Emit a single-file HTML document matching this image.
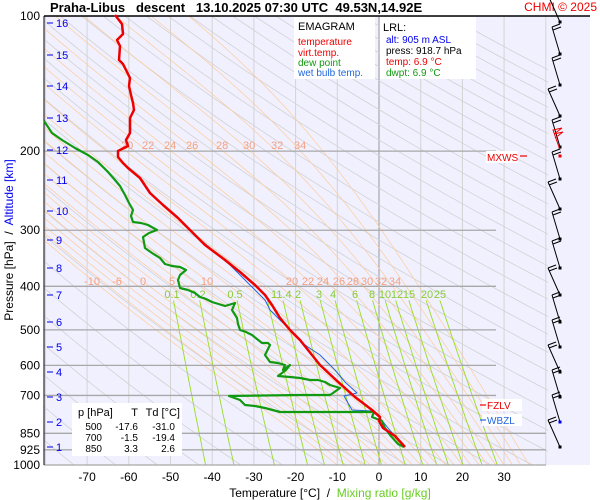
<!DOCTYPE html>
<html><head><meta charset="utf-8"><style>
body{margin:0;background:#fff;width:600px;height:500px;overflow:hidden;font-family:"Liberation Sans",sans-serif}
svg{display:block}
text{white-space:pre}
</style></head><body>
<svg id="s" width="600" height="500" xmlns="http://www.w3.org/2000/svg" font-family="Liberation Sans, sans-serif">
<rect x="44" y="16" width="546" height="449" fill="#f0f0ff"/>
<defs><clipPath id="c"><rect x="44" y="16" width="504" height="449"/></clipPath></defs>
<g id="bg" clip-path="url(#c)"></g>
<g id="fg"></g>
</svg>
<script>
const NS="http://www.w3.org/2000/svg";
const bg=document.getElementById('bg'),fg=document.getElementById('fg');
function Y(p){return 16+449*Math.log10(p/100);}
function X(t){return 379+4.17*t;}
function el(par,tag,a,txt){const e=document.createElementNS(NS,tag);for(const k in a)e.setAttribute(k,a[k]);if(txt!==undefined)e.textContent=txt;par.appendChild(e);return e;}
function pl(par,pts,st,w){el(par,'polyline',{points:pts.map(q=>q[0].toFixed(1)+','+q[1].toFixed(1)).join(' '),fill:'none',stroke:st,'stroke-width':w,'stroke-linejoin':'round'});}
for(let t=-80;t<=40;t+=10){el(bg,'line',{x1:X(t),y1:16,x2:X(t),y2:465,stroke:t==0?'#999':'#d4d4d4','stroke-width':1});}
for(let th=200;th<=560;th+=10){let pts=[];for(let p=100;p<=1000;p+=10){pts.push([X(th*Math.pow(p/1000,0.286)-273.15),Y(p)]);}pl(bg,pts,'#d2d2d2',0.8);}
function es(t){return 6.112*Math.exp(17.67*t/(t+243.5));}
for(let t0=-10;t0<=36;t0+=2){let T=t0+273.15,p=1000,pts=[[X(t0),Y(1000)]];while(p>100){const tc=T-273.15;const e=es(tc);const rs=0.622*e/(p-e);const dTdp=(287*T+2.5e6*rs)/(1004+2.5e6*2.5e6*rs*0.622/(287*T*T))/p;const dp=-5;T+=dTdp*dp;p+=dp;pts.push([X(T-273.15),Y(p)]);}pl(bg,pts,'#ffcc99',0.7);}
const mr=[0.1,0.2,0.5,1,1.4,2,3,4,6,8,10,12,15,20,25];
mr.forEach(w=>{let pts=[];for(let p=430;p<=1000;p+=10){const e=w*p/(622+w);const l=Math.log(e/6.112);pts.push([X(243.5*l/(17.67-l)),Y(p)]);}pl(bg,pts,'#99dd22',0.9);});
[[200,496],[300,496],[400,496],[500,496],[600,496],[700,496],[850,546],[925,546],[1000,546]].forEach(a=>el(fg,'line',{x1:44,y1:Y(a[0]),x2:a[1],y2:Y(a[0]),stroke:'#a8a8a8','stroke-width':1.3}));
[['20',121],['22',142],['24',164],['26',186],['28',216],['30',243],['32',271],['34',294]].forEach(a=>el(fg,'text',{x:a[1],y:149,'font-size':11,fill:'#f4a080'},a[0]));
[['-10',92],['-6',117],['0',143],['5',172],['10',207],['20',292],['22',308],['24',323],['26',339],['28',353],['30',367],['32',381],['34',395]].forEach(a=>el(fg,'text',{x:a[1],y:285,'font-size':11,fill:'#f4a080','text-anchor':'middle'},a[0]));
[['0.1',172],['0.2',198],['0.5',235],['1',274],['1.4',284],['2',298],['3',319],['4',333],['6',355],['8',372],['10',385],['12',397],['15',409],['20',427],['25',440]].forEach((a,i)=>el(fg,'text',{x:a[1],y:298,'font-size':11,fill:'#88cc33','text-anchor':'middle'},a[0]));
el(fg,'line',{x1:44,y1:16,x2:590,y2:16,stroke:'#000','stroke-width':1.5});
el(fg,'line',{x1:44,y1:16,x2:44,y2:465,stroke:'#000','stroke-width':1});
const blue=[[195,235],[230,265],[250,285],[265,300],[270,310],[285,325],[295,335],[305,345],[320,355],[335,370],[345,382],[357,393],[344,396],[352,410],[372,411],[380,418],[388,428],[398,440],[404,446]];
pl(fg,blue,'#2266dd',1);
const dew=[[44,121],[52,133],[62,140],[75,148],[88,155],[98,162],[108,172],[115,180],[120,186],[125,195],[129,203],[133,210],[131,216],[133,222],[141,223],[148,225],[157,230],[149,233],[143,237],[145,248],[152,253],[160,258],[165,264],[172,266],[180,267],[186,270],[180,275],[178,280],[180,288],[188,290],[195,293],[200,297],[206,299],[212,302],[225,306],[235,303],[232,310],[237,318],[238,324],[240,330],[246,332],[252,335],[262,343],[268,343],[270,345],[265,355],[270,362],[278,363],[285,365],[283,370],[290,365],[286,370],[278,376],[290,377],[300,378],[310,380],[318,380],[325,382],[330,385],[340,388],[333,393],[330,395],[300,395],[229,396],[240,400],[245,405],[255,406],[265,408],[280,412],[374,412],[372,417],[382,421],[385,428],[390,435],[398,444],[404,447]];
pl(fg,dew,'#119911',2.2);
const red=[[115,15],[122,24],[123,34],[117,40],[120,46],[119,60],[123,64],[126,70],[130,78],[129,86],[131,95],[133,103],[134,110],[130,118],[130,133],[126,140],[128,146],[118,151],[118,157],[123,163],[128,168],[134,173],[140,178],[150,193],[163,205],[178,218],[190,230],[205,245],[225,260],[240,272],[255,285],[265,295],[272,305],[280,318],[290,330],[300,340],[308,350],[320,365],[336,380],[355,397],[372,410],[380,417],[379,421],[383,428],[395,436],[405,447]];
pl(fg,red,'#ee0000',2.5);
[100,200,300,400,500,600,700,850,925,1000].forEach(p=>el(fg,'text',{x:40,y:Y(p)+4,'font-size':12,'text-anchor':'end'},p));
[[16,23],[15,55],[14,86],[13,118],[12,150],[11,180],[10,211],[9,240],[8,268],[7,295],[6,322],[5,347],[4,372],[3,397],[2,422],[1,447]].forEach(a=>{el(fg,'line',{x1:47,y1:a[1],x2:53,y2:a[1],stroke:'#0000ee','stroke-width':1});el(fg,'text',{x:56,y:a[1]+4,'font-size':11,fill:'#0000ee'},a[0]);});
for(let t=-70;t<=30;t+=10)el(fg,'text',{x:X(t),y:481,'font-size':12,'text-anchor':'middle'},t);
const xl=el(fg,'text',{x:330,y:497,'font-size':12,'text-anchor':'middle'});
el(xl,'tspan',{},'Temperature [°C]  /  ');el(xl,'tspan',{fill:'#66cc22'},'Mixing ratio [g/kg]');
const yl=el(fg,'text',{x:0,y:0,'font-size':12,'text-anchor':'middle',transform:'translate(13,240) rotate(-90)'});
el(yl,'tspan',{},'Pressure [hPa]  /  ');el(yl,'tspan',{fill:'#0000ee'},'Altitude [km]');
el(fg,'text',{x:50,y:12,'font-size':13,'font-weight':'bold'},'Praha-Libus   descent   13.10.2025 07:30 UTC  49.53N,14.92E');
el(fg,'text',{x:597,y:11,'font-size':12,fill:'#ee0000','text-anchor':'end'},'CHMI © 2025');
el(fg,'rect',{x:294,y:17,width:81,height:62,fill:'#fff'});
el(fg,'text',{x:298,y:30,'font-size':11},'EMAGRAM');
[['temperature','#ee0000',45],['virt.temp.','#ee0000',56],['dew point','#119911',66],['wet bulb temp.','#2266dd',76]].forEach(a=>el(fg,'text',{x:298,y:a[2],'font-size':10,fill:a[1]},a[0]));
el(fg,'rect',{x:380,y:17,width:96,height:62,fill:'#fff'});
el(fg,'text',{x:383,y:31,'font-size':11},'LRL:');
[['alt: 905 m ASL','#0000ee',43],['press: 918.7 hPa','#000',54],['temp: 6.9 °C','#ee0000',65],['dwpt: 6.9 °C','#119911',76]].forEach(a=>el(fg,'text',{x:386,y:a[2],'font-size':10,fill:a[1]},a[0]));
el(fg,'rect',{x:72,y:403,width:110,height:53,fill:'#fff'});
const tb=[['p [hPa]','T','Td [°C]'],['500','-17.6','-31.0'],['700','-1.5','-19.4'],['850','3.3','2.6']];
tb.forEach((r,i)=>{const y=i==0?416:430+(i-1)*11;el(fg,'text',{x:i==0?78:102,y:y,'font-size':i==0?11:10,'text-anchor':i==0?'start':'end'},r[0]);el(fg,'text',{x:138,y:y,'font-size':i==0?11:10,'text-anchor':'end'},r[1]);el(fg,'text',{x:i==0?180:175,y:y,'font-size':i==0?11:10,'text-anchor':'end'},r[2]);});
el(fg,'rect',{x:486,y:151,width:32,height:12,fill:'#fff'});
el(fg,'text',{x:487,y:161,'font-size':10,fill:'#ee0000'},'MXWS');
el(fg,'line',{x1:520,y1:156,x2:527,y2:156,stroke:'#ee0000','stroke-width':1.2});
el(fg,'rect',{x:482,y:399,width:40,height:12,fill:'#fff'});
el(fg,'line',{x1:480,y1:405,x2:486,y2:405,stroke:'#ee0000','stroke-width':1.2});
el(fg,'text',{x:487,y:409,'font-size':10,fill:'#ee0000'},'FZLV');
el(fg,'rect',{x:482,y:414,width:40,height:12,fill:'#fff'});
el(fg,'line',{x1:480,y1:420,x2:486,y2:420,stroke:'#2266dd','stroke-width':1.2});
el(fg,'text',{x:487,y:424,'font-size':10,fill:'#2266dd'},'WBZL');
const wy=[22,54,85,116,147,179,209,239,268,295,322,347,372,397,422,447];
wy.forEach((y,i)=>{const tx=(i%3==0)?548:552,ty=y-27;el(fg,'line',{x1:560,y1:y,x2:tx,y2:ty,stroke:'#000','stroke-width':1});
for(let k=0;k<2;k++)el(fg,'line',{x1:tx+k*1,y1:ty+k*3,x2:tx+8+k*1,y2:ty-3+k*3,stroke:'#000','stroke-width':1});
el(fg,'rect',{x:558.5,y:y-1.5,width:3,height:3,fill:i==14?'#0000ee':'#000'});});
el(fg,'polyline',{points:'560,150 553,130 562,128 554,134 563,132 555,138',fill:'none',stroke:'#ee0000','stroke-width':1});
el(fg,'rect',{x:558.5,y:154.5,width:3,height:3,fill:'#ee0000'});
</script>
</body></html>
